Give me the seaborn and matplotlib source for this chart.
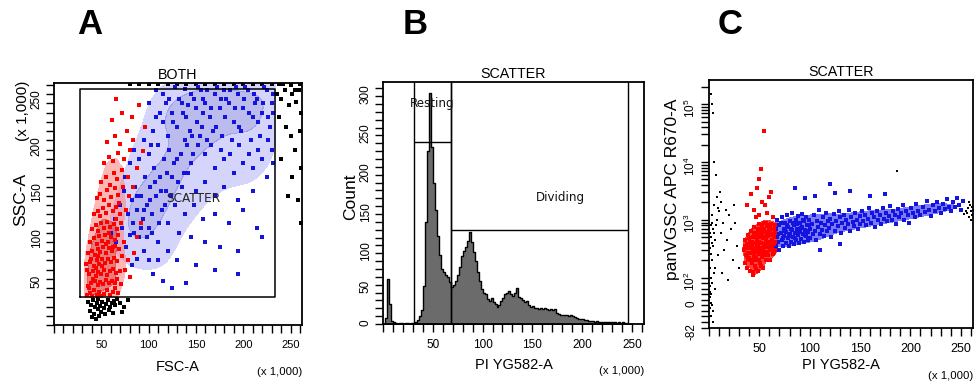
import matplotlib
matplotlib.use("Agg")
import numpy as np
import pandas as pd
import seaborn as sns
import matplotlib.pyplot as plt
from matplotlib.ticker import FixedLocator, MultipleLocator

sns.set_style("ticks")
plt.rcParams["font.family"] = ["Liberation Sans", "DejaVu Sans"]
plt.rcParams["mathtext.default"] = "regular"
for k in ["text.color", "axes.labelcolor", "xtick.color", "ytick.color", "axes.edgecolor"]:
    plt.rcParams[k] = "black"

# ---------------- data ----------------
panel_letters = ["A", "B", "C"]
titles = ["BOTH", "SCATTER", "SCATTER"]
x_labels = ["FSC-A", "PI YG582-A", "PI YG582-A"]
y_labels = ["SSC-A", "Count", "panVGSC APC R670-A"]
lin_ticks = [50, 100, 150, 200, 250]
lin_tick_labels = ["50", "100", "150", "200", "250"]
hist_y_ticks = [0, 50, 100, 150, 200, 250, 300]
c_y_ticks = [-82, 0, 100, 1000, 10000, 100000]
c_y_tick_labels = ["-82", "0", "$10^2$", "$10^3$", "$10^4$", "$10^5$"]
axis_max = 262.144

# Panel A: FSC-A vs SSC-A (x 1,000)
a_red = [(35,32),(38,35),(40,31),(42,38),(45,33),(48,36),(50,31),(53,34),(56,38),(59,33),(62,36),(65,40),(68,35),
         (36,42),(39,45),(43,48),(46,43),(49,47),(52,44),(55,49),(58,45),(61,48),(64,46),(67,50),(71,44),
         (37,55),(41,58),(44,53),(47,57),(50,55),(53,60),(56,54),(59,58),(62,61),(66,56),(70,59),
         (34,66),(38,68),(42,64),(45,70),(48,66),(51,71),(54,67),(57,72),(60,68),(63,73),(67,69),(72,75),
         (36,78),(40,80),(43,76),(46,82),(49,79),(52,84),(55,78),(58,83),(61,80),(65,86),(69,82),
         (38,90),(42,94),(45,88),(48,96),(51,91),(54,97),(57,90),(60,95),(64,92),(68,98),(74,90),
         (40,104),(44,108),(47,102),(50,110),(53,105),(56,112),(59,106),(63,109),(67,104),(71,111),
         (42,120),(46,124),(49,118),(52,127),(55,121),(58,130),(62,123),(66,128),(70,120),
         (45,138),(49,142),(53,135),(56,146),(60,139),(64,148),(68,141),(73,150),
         (50,155),(55,160),(59,152),(63,165),(67,158),(72,168),(78,160),
         (53,175),(58,182),(62,178),(68,186),(74,180),(80,190),(56,198),(64,205),(70,196),(77,210),(84,200),
         (61,222),(72,230),(82,225),(90,238),(66,245),(96,215),
         (75,60),(78,70),(80,52),(85,78),(88,95),(92,110),(37,40),(41,50),(35,60),(39,72),(44,62),(47,75),
         (51,64),(55,88),(58,100),(62,85),(66,115),(69,132),(76,125),(79,140),(84,150),(88,170),(94,188)]
a_blue = [(60,100),(64,115),(66,90),(70,130),(72,105),(74,145),(76,85),(78,120),(80,98),(82,135),(84,110),(86,150),
          (88,125),(90,95),(92,140),(94,115),(96,160),(98,130),(100,105),(102,150),(104,120),(106,170),(108,140),
          (110,90),(112,160),(114,125),(116,180),(118,145),(120,110),(75,160),(80,175),(85,190),(90,180),(95,200),
          (100,185),(105,210),(110,195),(115,220),(120,205),(125,230),(130,215),(135,240),(140,225),(145,250),
          (150,235),(155,255),(160,240),(165,225),(170,250),(175,235),(180,255),(185,240),(190,220),(195,250),
          (200,235),(205,255),(210,225),(215,245),(220,230),(225,255),(230,240),(100,240),(108,255),(115,250),
          (122,245),(128,258),(138,256),(148,245),(158,230),(168,210),(178,205),(188,200),(198,210),(208,200),
          (218,205),(228,215),(122,190),(130,180),(138,200),(145,175),(152,195),(160,185),(170,170),(180,180),
          (190,165),(200,175),(210,170),(220,180),(230,190),(125,160),(135,150),(142,165),(150,145),(160,155),
          (170,140),(180,150),(195,135),(210,145),(225,160),(128,130),(138,120),(148,130),(158,115),(170,120),
          (185,110),(200,125),(215,105),(132,100),(145,95),(160,90),(175,85),(195,80),(120,80),(110,70),(130,70),
          (150,65),(170,60),(140,45),(195,55),(220,95),(100,70),(95,80),(88,72),(82,65),(105,55),(115,48),(125,40),
          (85,100),(88,140),(92,105),(95,125),(98,95),(101,135),(104,100),(107,155),(111,110),(113,145),(117,130),
          (119,165),(124,140),(127,175),(131,155),(134,185),(137,165),(141,195),(144,210),(147,185),(151,220),
          (154,205),(157,245),(162,200),(166,235),(171,215),(176,245),(181,225),(186,255),(191,235),(196,215),
          (201,245),(206,230),(211,250),(216,220),(221,240),(226,225),(231,250),(103,195),(112,230),(118,240),
          (132,245),(142,238),(152,258),(162,255),(172,258),(182,245),(192,258),(202,258),(212,240),(222,258),
          (232,230),(108,225),(126,220),(136,230),(146,205),(156,215),(166,195),(176,190),(186,185),(196,195),
          (206,185),(216,190),(226,200),(232,175)]
a_black = [(36,25),(39,22),(41,27),(43,20),(45,24),(47,28),(49,21),(51,25),(53,18),(55,23),(57,27),(59,20),(61,24),
           (63,26),(65,22),(67,28),(38,15),(42,12),(46,17),(50,14),(54,12),(58,16),(62,13),(70,24),(74,20),(40,9),
           (44,6),(48,10),(72,14),(78,27),
           (236,250),(240,245),(244,255),(248,238),(252,250),(256,242),(259,255),(261,230),(238,225),(245,215),
           (250,205),(255,190),(260,210),(240,180),(252,160),(261,170),(258,135),(247,140),(261,110),(255,255),
           (250,260),(242,261),(260,261),(238,261),
           (80,261),(90,261),(100,261),(110,261),(120,261),(130,261),(140,261),(150,261),(160,261),(170,261),
           (180,261),(190,261),(200,261),(210,261),(220,261),(230,261)]
gate_a = [27, 30, 234, 256]          # x0, y0, x1, y1
gate_a_label = ("SCATTER", 147, 137)

# Panel B: PI histogram (bin width 2, x 1,000)
hist_edges = list(range(0, 252, 2))
hist_counts = [0, 8, 57, 25, 4, 2, 1, 0, 1, 1,
               0, 1, 1, 0, 1, 1, 2, 5, 10, 18,
               48, 130, 220, 294, 225, 180, 145, 112, 88, 70,
               66, 63, 60, 53, 47, 50, 55, 62, 72, 86,
               93, 98, 106, 117, 104, 92, 80, 66, 55, 45,
               40, 38, 32, 29, 33, 28, 25, 22, 24, 29,
               33, 38, 40, 42, 38, 36, 40, 46, 35, 33,
               30, 28, 29, 24, 22, 23, 21, 20, 19, 20,
               19, 20, 19, 18, 19, 18, 19, 14, 13, 12,
               12, 11, 11, 10, 11, 10, 9, 8, 7, 6,
               6, 5, 5, 4, 4, 4, 3, 4, 3, 3,
               3, 3, 2, 3, 2, 2, 2, 1, 2, 1,
               2, 1, 1, 0, 0]
gate_resting = [31, 68, 231]      # x0, x1, level
gate_dividing = [68, 246, 120]
gate_b_labels = [("Resting", 49, 281), ("Dividing", 178, 161)]

# Panel C: PI vs panVGSC
c_red = [(35,300),(36,180),(36,450),(37,250),(38,380),(38,150),(39,550),(40,220),(40,320),(41,130),(41,420),(42,650),
         (42,270),(43,180),(43,350),(44,500),(44,110),(45,240),(45,750),(46,400),(46,160),(47,300),(47,600),(48,200),
         (48,450),(49,130),(49,350),(50,850),(50,260),(51,550),(51,180),(52,400),(52,700),(53,230),(53,320),(54,480),
         (54,150),(55,900),(55,380),(56,280),(56,620),(57,200),(57,450),(58,340),(58,780),(59,250),(59,520),(60,400),
         (60,680),(61,300),(61,200),(62,560),(62,850),(63,350),(63,450),(64,260),(64,700),(65,500),(65,380),(66,300),
         (66,600),(66,820),(37,330),(39,270),(41,200),(43,420),(45,330),(47,230),(49,500),(51,300),(53,600),(55,250),
         (57,350),(59,420),(61,750),(63,550),(65,280),(44,280),(48,380),(52,280),(56,500),(60,340),(64,400),(50,420),
         (54,330),(58,600),(62,420),(46,520),(42,320),(39,210),(47,140),(44,125),(52,160),(36,360),(38,240),(40,480),
         (42,380),(44,200),(46,280),(48,300),(50,200),(52,500),(54,250),(56,380),(58,280),(60,550),(62,320),(64,560),
         (66,420),(49,700),(53,800),(57,900),(61,600),(65,700),(45,600),(51,650),(55,700),(59,800)]
c_red_sparse = [(45,1500),(50,1200),(53,2000),(48,3500),(56,1800),(60,2500),(42,2800),(52,7500),(55,35000),(50,5000),
                (58,1300),(38,1800),(64,1100),(62,3000),(47,1100)]
c_blue = [(67,350),(67,700),(68,500),(68,1000),(69,420),(70,800),(70,300),(71,600),(72,450),(72,1100),(73,350),(74,700),
          (74,520),(75,900),(76,400),(76,620),(77,1200),(78,480),(78,750),(79,350),(80,560),(80,950),(81,420),(82,680),
          (82,1300),(83,500),(84,820),(84,380),(85,600),(86,1000),(86,450),(87,700),(88,540),(88,1150),(89,400),(90,640),
          (90,880),(91,470),(92,760),(92,1250),(93,560),(94,420),(94,950),(95,680),(96,520),(96,1100),(97,800),(98,450),
          (98,620),(99,1000),(100,700),(100,480),(69,580),(71,900),(73,480),(75,640),(77,800),(79,520),(81,700),(83,900),
          (85,480),(87,850),(89,620),(91,720),(93,1000),(95,550),(97,650),(99,800),
          (102,850),(103,560),(104,1200),(105,650),(106,450),(107,950),(108,750),(109,1500),(110,580),(111,880),
          (112,680),(113,1100),(114,520),(115,800),(116,1300),(117,650),(118,950),(119,720),(120,1050),(121,500),
          (122,850),(124,1250),(125,650),(126,950),(128,780),(129,1400),(130,1100),(131,600),(132,880),(134,1200),
          (135,720),(136,1000),(138,850),(139,1500),(140,650),(141,1100),(143,920),(144,780),(145,1300),(147,1000),
          (148,700),(150,1150),(150,850),
          (152,1400),(153,950),(155,1200),(156,800),(158,1050),(159,1600),(161,900),(162,1300),(164,1100),(165,750),
          (167,1450),(168,1000),(170,1200),(171,850),(173,1600),(174,1050),(176,1300),(177,950),(179,1150),(180,1750),
          (182,1000),(183,1400),(185,1200),(186,850),(188,1550),(189,1100),(191,1300),(193,1800),(194,1000),(196,1450),
          (198,1200),(199,900),
          (201,1600),(203,1300),(205,1100),(206,1900),(208,1450),(210,1200),(212,1700),(214,1350),(216,2100),(218,1500),
          (220,1150),(222,1800),(224,1400),(226,2000),(228,1600),(230,1300),(232,1900),(234,1550),(236,2300),(238,1700),
          (240,1400),(242,2000),(244,1650),(246,2400),(248,1800),(250,1500),(252,2100)]
c_blue_sparse = [(105,2600),(125,2900),(140,3100),(160,2600),(175,2800),(95,2400),(110,300),(130,380),(85,3500),(120,4200)]
c_black = [(1,50),(2,100),(1,150),(3,200),(2,260),(1,320),(3,400),(2,500),(1,600),(4,700),(2,800),(3,900),(1,30),(2,10),
           (4,-20),(2,-40),(3,0),(1,70),(5,120),(4,350),(6,450),(5,600),(7,800),(8,1000),(3,1200),(9,250),(10,1400),
           (12,600),(14,900),(15,300),(17,1500),(18,450),(20,1200),(22,700),(24,200),(26,900),(28,350),(30,150),
           (25,1800),(12,2000),(5,1800),(8,2500),(3,100000),(4,70000),(2,150000),(5,10000),(7,6000),(11,3000),(9,1600),
           (6,150),(1,-10),(2,40),(3,80),(4,-60),(13,120),(19,90),(6,60),
           (256,1300),(257,1600),(258,1100),(259,1800),(260,1400),(261,1200),(261,1700),(262,1500),(255,1450),
           (258,2000),(260,1000),(253,1250),(187,7000)]
c_ylim = (-82, 262144)

# ---------------- figure ----------------
fig = plt.figure(figsize=(9.77, 3.81), dpi=100)
W, H = 977, 381

def ax_at(l, t, r, b):
    return fig.add_axes([l / W, 1 - b / H, (r - l) / W, (b - t) / H])

axA = ax_at(54, 83, 302, 325)
axB = ax_at(383, 82, 644, 324)
axC = ax_at(709, 80, 973, 328)

RED = "#ff0000"
BLUE = "#1414e0"

def frame(pts):
    return pd.DataFrame(pts, columns=["x", "y"])

def scat(ax, pts, color, size):
    sns.scatterplot(data=frame(pts), x="x", y="y", color=color, s=size, marker="s",
                    linewidth=0, ax=ax, legend=False)

# Panel A
gx0, gy0, gx1, gy1 = gate_a
gate_clip = ((gx0, gx1), (gy0, axis_max))
sns.kdeplot(data=frame(a_blue), x="x", y="y", fill=True, levels=[0.18, 0.6, 1.0], color=BLUE,
            alpha=0.40, bw_adjust=0.85, clip=gate_clip, ax=axA)
sns.kdeplot(data=frame(a_red), x="x", y="y", fill=True, levels=[0.25, 0.6, 1.0], color=RED,
            alpha=0.60, bw_adjust=0.7, clip=gate_clip, ax=axA)
scat(axA, a_black, "black", 5)
scat(axA, a_blue, BLUE, 7)
scat(axA, a_red, RED, 7)
axA.plot([gx0, gx1, gx1, gx0, gx0], [gy0, gy0, gy1, gy1, gy0], color="black", lw=1.1)
axA.text(gate_a_label[1], gate_a_label[2], gate_a_label[0], ha="center", va="center",
         fontsize=8.7, family=["DejaVu Sans"], color="#222222")
axA.set_xlim(0, axis_max)
axA.set_ylim(0, axis_max)

# Panel B
centers = [(hist_edges[i] + hist_edges[i + 1]) / 2 for i in range(len(hist_counts))]
sns.histplot(x=centers, weights=hist_counts, bins=hist_edges, element="step", fill=True,
             color="#6b6b6b", alpha=1, edgecolor="black", linewidth=1.0, ax=axB)
axB.set_xlim(0, axis_max)
axB.set_ylim(0, 308)
for bx0, bx1, lev in [gate_resting, gate_dividing]:
    axB.axvline(bx0, color="black", lw=1.0)
    axB.axvline(bx1, color="black", lw=1.0)
    axB.plot([bx0, bx1], [lev, lev], color="black", lw=1.0)
for txt, tx, ty in gate_b_labels:
    axB.text(tx, ty, txt, ha="center", va="center", fontsize=8.6, family=["DejaVu Sans"], color="#111111")

# Panel C
sns.kdeplot(data=frame(c_blue), x="x", y="y", fill=True, levels=2, thresh=0.3, color=BLUE,
            alpha=1.0, bw_adjust=0.7, ax=axC, log_scale=(False, True))
sns.kdeplot(data=frame(c_red), x="x", y="y", fill=True, levels=2, thresh=0.12, color=RED,
            alpha=1.0, bw_adjust=0.7, ax=axC, log_scale=(False, True))
axC.set_yscale("symlog", linthresh=100, linscale=0.43)
scat(axC, c_black, "black", 4)
scat(axC, c_blue + c_blue_sparse, BLUE, 8)
scat(axC, c_red + c_red_sparse, RED, 8)
axC.set_xlim(0, axis_max)
axC.set_ylim(*c_ylim)

# ---------------- axes styling ----------------
x_tick_sizes = [8, 8.5, 9]
for ax, title, xl, yl, xts in zip([axA, axB, axC], titles, x_labels, y_labels, x_tick_sizes):
    for sp in ax.spines.values():
        sp.set_visible(True)
        sp.set_linewidth(1.3)
        sp.set_color("black")
    ax.set_title(title, fontsize=10.3, pad=3)
    ax.set_xlabel(xl, fontsize=10.5)
    ax.set_ylabel(yl, fontsize=12.5)
    ax.xaxis.set_major_locator(FixedLocator(lin_ticks))
    ax.set_xticklabels(lin_tick_labels)
    ax.xaxis.set_minor_locator(MultipleLocator(10))
    ax.tick_params(which="both", direction="out", length=6, width=1, color="black")
    ax.tick_params(axis="x", labelsize=xts, pad=5)
    ax.tick_params(axis="y", labelsize=8.5, labelrotation=90, pad=2)
    ax.text(1.0, -0.175, "(x 1,000)", transform=ax.transAxes, ha="right", va="top", fontsize=8.2)

axA.yaxis.set_major_locator(FixedLocator(lin_ticks))
axA.set_yticklabels(lin_tick_labels)
axA.yaxis.set_minor_locator(MultipleLocator(10))
axA.text(-0.125, 0.885, "(x 1,000)", transform=axA.transAxes, rotation=90, ha="center", va="center", fontsize=11)
axA.xaxis.set_label_coords(0.5, -0.145)
axA.yaxis.set_label_coords(-0.105, 0.52)

axB.yaxis.set_major_locator(FixedLocator(hist_y_ticks))
axB.set_yticklabels([str(v) for v in hist_y_ticks])
axB.yaxis.set_minor_locator(MultipleLocator(10))
axB.xaxis.set_label_coords(0.5, -0.14)
axB.yaxis.set_label_coords(-0.096, 0.525)

axC.yaxis.set_major_locator(FixedLocator(c_y_ticks))
axC.set_yticklabels(c_y_tick_labels)
c_minor = [-60, -40, -20, 20, 40, 60, 80] + [m * 10 ** k for k in (2, 3, 4) for m in range(2, 10)] + [200000]
axC.yaxis.set_minor_locator(FixedLocator(c_minor))
axC.xaxis.set_label_coords(0.5, -0.12)
axC.yaxis.set_label_coords(-0.11, 0.56)

letter_x = [90, 415, 730]
for L, lx in zip(panel_letters, letter_x):
    fig.text(lx / W, 1 - 25 / H, L, ha="center", va="center", fontsize=25, fontweight="bold", color="black")

fig.savefig("out.png", dpi=100)
